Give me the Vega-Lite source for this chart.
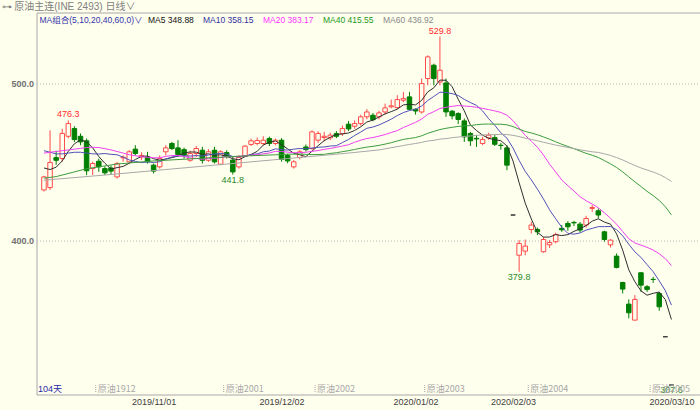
{
  "$schema": "https://vega.github.io/schema/vega-lite/v6.json",
  "width": 663.5,
  "height": 382,
  "autosize": {"type": "none"},
  "padding": {"left": 36.5, "top": 12.5, "right": 0, "bottom": 15.5},
  "background": "#ffffee",
  "title": {
    "text": "⊶ 原油主连(INE 2493)  日线∨",
    "anchor": "start",
    "frame": "group",
    "dx": -35,
    "dy": 10,
    "offset": 1,
    "baseline": "bottom",
    "font": "Liberation Sans, Noto Sans CJK SC",
    "fontSize": 10,
    "fontWeight": "normal",
    "color": "#808080"
  },
  "config": {
    "font": "Liberation Sans",
    "view": {"stroke": "#a8a8a8"},
    "axisY": {
      "domain": false,
      "ticks": false,
      "grid": true,
      "gridColor": "#b8b8b8",
      "gridDash": [1, 2],
      "labelPadding": 3,
      "labelFont": "Liberation Sans",
      "labelFontSize": 9,
      "labelFontWeight": "bold",
      "labelColor": "#707070"
    }
  },
  "datasets": {
    "k": [
      {"i":0,"o":432,"h":441,"l":431,"c":440.3,"MA5":446,"MA10":457,"MA20":455.5,"MA40":439.5,"MA60":438.2},
      {"i":1,"o":433.5,"h":470,"l":432,"c":449.5,"MA5":445,"MA10":456,"MA20":456},
      {"i":2,"o":452.6,"h":457,"l":448,"c":450.9,"MA5":446.5,"MA10":455,"MA20":456.5,"MA40":440.5},
      {"i":3,"o":452,"h":471,"l":450,"c":468,"MA5":450.5,"MA10":455,"MA20":457},
      {"i":4,"o":466.2,"h":476.3,"l":465,"c":474.3,"MA5":456.6,"MA10":455.5,"MA20":457.5},
      {"i":5,"o":471.1,"h":472.6,"l":462.6,"c":464.1,"MA5":461.4,"MA10":456,"MA20":458},
      {"i":6,"o":466.2,"h":468,"l":460.5,"c":462.6,"MA5":464,"MA10":456,"MA20":458.5},
      {"i":7,"o":463.3,"h":464.8,"l":441.4,"c":444.2,"MA5":462.6,"MA10":455.5,"MA20":459,"MA40":445.5},
      {"i":8,"o":445.6,"h":450,"l":441.4,"c":448.8,"MA5":458.8,"MA10":455,"MA20":459.2},
      {"i":9,"o":450.3,"h":452,"l":443.5,"c":446.7,"MA5":453.3,"MA10":454.9,"MA20":459},
      {"i":10,"o":445.6,"h":447,"l":441.5,"c":442.9,"MA5":449,"MA10":455.2,"MA20":458.3,"MA60":441.5},
      {"i":11,"o":446,"h":447.5,"l":442,"c":444,"MA5":445.3,"MA10":454.7,"MA20":457.5},
      {"i":12,"o":440.3,"h":449.9,"l":439.3,"c":448.8,"MA5":446.2,"MA10":454.4,"MA20":456.5,"MA40":448.5},
      {"i":13,"o":452.5,"h":454,"l":450,"c":452.8,"MA5":447,"MA10":452.9,"MA20":455.5},
      {"i":14,"o":449.9,"h":457.4,"l":449,"c":456.3,"MA5":449,"MA10":451.1,"MA20":454.5},
      {"i":15,"o":458,"h":460.5,"l":454,"c":455.2,"MA5":451.4,"MA10":450.2,"MA20":453.8},
      {"i":16,"o":453,"h":456,"l":451,"c":454,"MA5":453.4,"MA10":449.4,"MA20":453.2},
      {"i":17,"o":453,"h":456.3,"l":448.8,"c":449.9,"MA5":453.6,"MA10":449.9,"MA20":452.8},
      {"i":18,"o":447.8,"h":448.8,"l":442.5,"c":444,"MA5":451.9,"MA10":449.5,"MA20":452.5,"MA40":450.5},
      {"i":19,"o":446.7,"h":454,"l":445.6,"c":452,"MA5":451,"MA10":450,"MA20":452.5},
      {"i":20,"o":456.3,"h":460.5,"l":454,"c":458.8,"MA5":451.7,"MA10":451.6,"MA20":453.4,"MA60":445},
      {"i":21,"o":461.6,"h":462.6,"l":457.4,"c":458.4,"MA5":452.6,"MA10":453,"MA20":453.9},
      {"i":22,"o":458.8,"h":463.7,"l":453,"c":454.6,"MA5":453.6,"MA10":453.6,"MA20":454},
      {"i":23,"o":457.7,"h":459,"l":452,"c":454.1,"MA5":455.6,"MA10":453.7,"MA20":453.3},
      {"i":24,"o":450.9,"h":457,"l":449.9,"c":455.2,"MA5":456.2,"MA10":453.6,"MA20":452.4},
      {"i":25,"o":455.2,"h":460,"l":453,"c":458.4,"MA5":456.1,"MA10":453.9,"MA20":452.1,"MA40":452},
      {"i":26,"o":457.3,"h":459.5,"l":448.8,"c":450.9,"MA5":454.6,"MA10":453.6,"MA20":451.5},
      {"i":27,"o":450.9,"h":458,"l":449.9,"c":456.3,"MA5":455,"MA10":454.3,"MA20":452.1},
      {"i":28,"o":457.3,"h":459.5,"l":448.8,"c":449.9,"MA5":454.1,"MA10":454.9,"MA20":452.2,"MA60":447.8},
      {"i":29,"o":448.4,"h":457.3,"l":447.8,"c":456.3,"MA5":454.4,"MA10":455.3,"MA20":452.7},
      {"i":30,"o":455.8,"h":457.3,"l":452,"c":453.5,"MA5":453.4,"MA10":454.8,"MA20":453.2},
      {"i":31,"o":451,"h":453,"l":441.8,"c":443.5,"MA5":451.9,"MA10":453.3,"MA20":453.2},
      {"i":32,"o":446.7,"h":454,"l":445.6,"c":452.7,"MA5":451.2,"MA10":453.1,"MA20":453.4,"MA40":453.5},
      {"i":33,"o":453.5,"h":460.5,"l":453,"c":459.9,"MA5":453.2,"MA10":453.7,"MA20":453.7},
      {"i":34,"o":461,"h":464.8,"l":460,"c":463.3,"MA5":454.6,"MA10":454.5,"MA20":454.1},
      {"i":35,"o":461.6,"h":465.4,"l":460.5,"c":463.5,"MA5":456.6,"MA10":455,"MA20":454.5},
      {"i":36,"o":461.6,"h":466.2,"l":460.5,"c":463.7,"MA5":460.6,"MA10":456.3,"MA20":455},
      {"i":37,"o":464.8,"h":466,"l":460,"c":461.6,"MA5":462.4,"MA10":456.8,"MA20":455.6},
      {"i":38,"o":461.6,"h":464.8,"l":460.5,"c":463.7,"MA5":463.2,"MA10":458.2,"MA20":456.6,"MA40":454.4},
      {"i":39,"o":463.7,"h":465,"l":450,"c":451.4,"MA5":460.8,"MA10":457.7,"MA20":456.5,"MA40":454.5},
      {"i":40,"o":454.1,"h":455,"l":449,"c":450.5,"MA5":458.2,"MA10":457.4,"MA20":456.1,"MA40":454.8,"MA60":452},
      {"i":41,"o":446.7,"h":451,"l":445.6,"c":449.9,"MA5":455.4,"MA10":458,"MA20":455.7,"MA40":454.8},
      {"i":42,"o":452.7,"h":457.5,"l":451.5,"c":456.3,"MA5":454.4,"MA10":458.4,"MA20":455.8,"MA40":454.9},
      {"i":43,"o":459.4,"h":461,"l":456.5,"c":457.7,"MA5":453.2,"MA10":458.2,"MA20":456,"MA40":454.7},
      {"i":44,"o":458.4,"h":470,"l":457.5,"c":469,"MA5":456.7,"MA10":458.7,"MA20":456.6,"MA40":454.5},
      {"i":45,"o":463.7,"h":469.5,"l":462,"c":468,"MA5":460.2,"MA10":459.2,"MA20":457.1,"MA40":454.6},
      {"i":46,"o":465.4,"h":469,"l":463,"c":466.2,"MA5":463.4,"MA10":459.4,"MA20":457.9,"MA40":454.7},
      {"i":47,"o":465.2,"h":468.5,"l":463.7,"c":466.9,"MA5":465.6,"MA10":460,"MA20":458.4,"MA40":455.3},
      {"i":48,"o":467.9,"h":469.5,"l":465,"c":466.2,"MA5":467.3,"MA10":460.2,"MA20":459.2,"MA40":455.7},
      {"i":49,"o":467.9,"h":473,"l":466.5,"c":471.1,"MA5":467.7,"MA10":462.2,"MA20":460,"MA40":456.4},
      {"i":50,"o":473.9,"h":476,"l":469.5,"c":470.9,"MA5":468.3,"MA10":464.2,"MA20":460.8,"MA40":457,"MA60":455.5},
      {"i":51,"o":472.6,"h":476.3,"l":471,"c":474.3,"MA5":469.9,"MA10":466.7,"MA20":462.4,"MA40":457.8},
      {"i":52,"o":474.3,"h":480,"l":473,"c":478.6,"MA5":472.2,"MA10":468.9,"MA20":463.7,"MA40":458.6},
      {"i":53,"o":478.6,"h":483.5,"l":477,"c":481.7,"MA5":475.3,"MA10":471.3,"MA20":464.8,"MA40":459.3},
      {"i":54,"o":479.6,"h":481,"l":475.8,"c":476.8,"MA5":476.5,"MA10":472.1,"MA20":465.4,"MA40":459.8},
      {"i":55,"o":478.6,"h":482.5,"l":477,"c":481.1,"MA5":478.5,"MA10":473.4,"MA20":466.3,"MA40":460.4,"MA60":457.5},
      {"i":56,"o":481.7,"h":487,"l":480,"c":484.3,"MA5":480.5,"MA10":475.2,"MA20":467.3,"MA40":461.2},
      {"i":57,"o":485,"h":489.6,"l":484,"c":485.6,"MA5":481.9,"MA10":477.1,"MA20":468.6,"MA40":462.1},
      {"i":58,"o":484.5,"h":492.4,"l":483.5,"c":489.6,"MA5":483.5,"MA10":479.4,"MA20":469.8,"MA40":463.2},
      {"i":59,"o":489.2,"h":494.5,"l":488,"c":490.2,"MA5":486.2,"MA10":481.3,"MA20":471.8,"MA40":464.2,"MA60":460.3},
      {"i":60,"o":491.3,"h":494.5,"l":482.8,"c":483.4,"MA5":486.6,"MA10":482.6,"MA20":473.4,"MA40":464.8,"MA60":461},
      {"i":61,"o":483.4,"h":484,"l":480,"c":482.3,"MA5":486.2,"MA10":483.4,"MA20":475.1,"MA40":465.4,"MA60":461.6},
      {"i":62,"o":481.7,"h":503,"l":480.7,"c":499.8,"MA5":489.1,"MA10":485.5,"MA20":477.2,"MA40":466.5,"MA60":462.3},
      {"i":63,"o":503,"h":517.8,"l":498.7,"c":516.8,"MA5":494.5,"MA10":489,"MA20":480.2,"MA40":468.1,"MA60":463.2},
      {"i":64,"o":511.5,"h":512.5,"l":498.7,"c":503,"MA5":497.1,"MA10":491.6,"MA20":481.9,"MA40":469.3,"MA60":463.6},
      {"i":65,"o":500.8,"h":529.8,"l":498.7,"c":508.3,"MA5":502,"MA10":494.3,"MA20":483.9,"MA40":470.5,"MA60":464.4},
      {"i":66,"o":500.2,"h":503,"l":478.6,"c":481.7,"MA5":501.9,"MA10":494.1,"MA20":484.7,"MA40":471.3,"MA60":464.7},
      {"i":67,"o":482.2,"h":483,"l":477,"c":479.2,"MA5":497.8,"MA10":493.4,"MA20":485.3,"MA40":471.9,"MA60":465.3},
      {"i":68,"o":480.7,"h":481.5,"l":474,"c":476.9,"MA5":489.8,"MA10":492.2,"MA20":485.8,"MA40":472.5,"MA60":465.7},
      {"i":69,"o":476,"h":477.5,"l":462.6,"c":465.8,"MA5":482.4,"MA10":489.7,"MA20":485.5,"MA40":472.8,"MA60":466.1},
      {"i":70,"o":468,"h":469,"l":460,"c":463.3,"MA5":473.4,"MA10":487.7,"MA20":485.2,"MA40":473,"MA60":466.4},
      {"i":71,"o":464.9,"h":466.9,"l":459.4,"c":464.5,"MA5":469.9,"MA10":485.9,"MA20":484.7,"MA40":473.6,"MA60":466.8},
      {"i":72,"o":461.6,"h":465.8,"l":460.5,"c":464.1,"MA5":466.9,"MA10":482.4,"MA20":484,"MA40":473.9,"MA60":467},
      {"i":73,"o":465.2,"h":468.4,"l":464,"c":466.9,"MA5":464.9,"MA10":477.4,"MA20":483.2,"MA40":474,"MA60":467.2},
      {"i":74,"o":465.4,"h":467,"l":460,"c":461.1,"MA5":464,"MA10":473.2,"MA20":482.4,"MA40":473.9,"MA60":467.3},
      {"i":75,"o":460.5,"h":462,"l":457.7,"c":460.3,"MA5":463.4,"MA10":468.4,"MA20":481.4,"MA40":473.9,"MA60":467.4},
      {"i":76,"o":458.8,"h":460.5,"l":444.6,"c":447.8,"MA5":460,"MA10":465,"MA20":479.6,"MA40":473.5,"MA60":467.3},
      {"i":77,"o":416,"h":416,"l":416,"c":416,"MA5":450.4,"MA10":458.7,"MA20":476.1,"MA40":472.4,"MA60":466.8},
      {"i":78,"o":390.4,"h":400,"l":379.8,"c":397.9,"MA5":436.6,"MA10":450.8,"MA20":471.5,"MA40":470.7,"MA60":466},
      {"i":79,"o":393,"h":400.4,"l":390.4,"c":396.2,"MA5":423.6,"MA10":443.8,"MA20":466.8,"MA40":469.3,"MA60":465},
      {"i":80,"o":406.8,"h":411.7,"l":404.2,"c":409.6,"MA5":413.5,"MA10":438.4,"MA20":463.1,"MA40":468.3,"MA60":464.2},
      {"i":81,"o":406.8,"h":408,"l":403.2,"c":405.3,"MA5":405,"MA10":432.5,"MA20":459.2,"MA40":467.2,"MA60":463.3},
      {"i":82,"o":392.6,"h":402.1,"l":392,"c":400.4,"MA5":401.9,"MA10":426.2,"MA20":454.3,"MA40":465.8,"MA60":462.4},
      {"i":83,"o":397,"h":400,"l":395,"c":398.5,"MA5":402,"MA10":419.3,"MA20":448.4,"MA40":464.3,"MA60":461.5},
      {"i":84,"o":399,"h":404.8,"l":398,"c":403.6,"MA5":403.5,"MA10":413.6,"MA20":443.4,"MA40":462.7,"MA60":460.6},
      {"i":85,"o":407.5,"h":409.6,"l":405.3,"c":406.6,"MA5":402.9,"MA10":408.2,"MA20":438.3,"MA40":461.1,"MA60":459.8},
      {"i":86,"o":410.6,"h":412.1,"l":406,"c":408.5,"MA5":403.5,"MA10":404.3,"MA20":434.7,"MA40":459.7,"MA60":459.1},
      {"i":87,"o":411.3,"h":412.3,"l":409,"c":411,"MA5":405.6,"MA10":403.8,"MA20":431.3,"MA40":458.3,"MA60":458.3},
      {"i":88,"o":410.2,"h":411.5,"l":405,"c":406.4,"MA5":407.2,"MA10":404.6,"MA20":427.7,"MA40":456.8,"MA60":457.6},
      {"i":89,"o":409.6,"h":415.5,"l":408,"c":413.8,"MA5":409.3,"MA10":406.4,"MA20":425.1,"MA40":455.3,"MA60":456.9},
      {"i":90,"o":420.2,"h":422.3,"l":418,"c":420.8,"MA5":412.1,"MA10":407.5,"MA20":423,"MA40":454.1,"MA60":456.3},
      {"i":91,"o":418.7,"h":420.2,"l":413.8,"c":416,"MA5":413.6,"MA10":408.6,"MA20":420.6,"MA40":452.7,"MA60":455.9},
      {"i":92,"o":405.3,"h":406,"l":399,"c":400.4,"MA5":411.5,"MA10":408.6,"MA20":417.4,"MA40":450.7,"MA60":455},
      {"i":93,"o":397,"h":400.6,"l":395.3,"c":400,"MA5":410.2,"MA10":408.7,"MA20":414,"MA40":448.6,"MA60":454},
      {"i":94,"o":389.8,"h":391.5,"l":382,"c":382.6,"MA5":404,"MA10":406.6,"MA20":410.1,"MA40":446.3,"MA60":452.6},
      {"i":95,"o":373,"h":373.5,"l":366,"c":368.8,"MA5":393.6,"MA10":402.8,"MA20":405.5,"MA40":443.5,"MA60":451.1},
      {"i":96,"o":359.2,"h":362.2,"l":350.1,"c":353.7,"MA5":381.1,"MA10":397.4,"MA20":400.9,"MA40":440.3,"MA60":449.3},
      {"i":97,"o":349,"h":365,"l":348.9,"c":362.2,"MA5":373.5,"MA10":392.5,"MA20":398.2,"MA40":437.2,"MA60":447.6},
      {"i":98,"o":379.2,"h":379.5,"l":367,"c":371.3,"MA5":367.7,"MA10":389,"MA20":396.8,"MA40":434.2,"MA60":446},
      {"i":99,"o":370.3,"h":371.3,"l":367,"c":368.6,"MA5":364.9,"MA10":384.4,"MA20":395.4,"MA40":431.1,"MA60":444.7},
      {"i":100,"o":375,"h":376.6,"l":372.8,"c":374.9,"MA5":366.1,"MA10":379.9,"MA20":393.7,"MA40":428.4,"MA60":443.4},
      {"i":101,"o":366,"h":367.1,"l":355,"c":357.5,"MA5":366.9,"MA10":374,"MA20":391.3,"MA40":425.3,"MA60":441.9},
      {"i":102,"o":338.4,"h":338.4,"l":338.4,"c":338.4,"MA5":362.1,"MA10":367.8,"MA20":388.2,"MA40":421.3,"MA60":439.9},
      {"i":103,"o":307.6,"h":307.6,"l":307.6,"c":307.6,"MA5":349.4,"MA10":358.6,"MA20":383.7,"MA40":416.1,"MA60":437.4}
    ],
    "ext": [
      {"i":4,"p":476.3,"k":"hi"},
      {"i":65,"p":529.8,"k":"hi"},
      {"i":31,"p":441.8,"k":"lo"},
      {"i":78,"p":379.8,"k":"lo"},
      {"i":103,"p":307.6,"k":"lo"}
    ],
    "ct": [
      {"i":8.5,"t":"原油1912"},
      {"i":29.5,"t":"原油2001"},
      {"i":44.5,"t":"原油2002"},
      {"i":62.5,"t":"原油2003"},
      {"i":79.5,"t":"原油2004"},
      {"i":99.5,"t":"原油2005"}
    ]
  },
  "encoding": {
    "x": {
      "field": "i",
      "type": "quantitative",
      "scale": {"domain": [-0.404, 106.87], "nice": false, "zero": false},
      "axis": {
        "values": [18, 39, 61, 77, 103],
        "labelExpr": "datum.value == 18 ? '2019/11/01' : datum.value == 39 ? '2019/12/02' : datum.value == 61 ? '2020/01/02' : datum.value == 77 ? '2020/02/03' : '2020/03/10'",
        "grid": false,
        "ticks": false,
        "domain": false,
        "labelPadding": 3,
        "labelFont": "Liberation Sans",
        "labelFontSize": 9,
        "labelColor": "#404040",
        "labelFlush": false,
        "labelOverlap": false,
        "title": "104天",
        "titleFont": "Liberation Sans, Noto Sans CJK SC",
        "titleFontSize": 9,
        "titleFontWeight": "normal",
        "titleColor": "#2a2aa8",
        "titleX": 1,
        "titleY": -6,
        "titleAlign": "left",
        "titleBaseline": "middle"
      }
    }
  },
  "layer": [
    {
      "data": {"name": "k"},
      "mark": {"type": "rule", "strokeWidth": 1},
      "encoding": {
        "y": {"field": "l", "type": "quantitative", "title": null, "scale": {"domain": [301.6, 545.1], "nice": false, "zero": false}, "axis": {"values": [400, 500], "format": ".1f"}},
        "y2": {"field": "h"},
        "color": {
          "condition": [
            {"test": "datum.h == datum.l", "value": "#333333"},
            {"test": "datum.c >= datum.o", "value": "#ff4a4a"}
          ],
          "value": "#007f00"
        }
      }
    },
    {
      "data": {"name": "k"},
      "mark": {"type": "bar", "width": 4.5, "strokeWidth": 1},
      "encoding": {
        "y": {"field": "o", "type": "quantitative", "title": null, "scale": {"domain": [301.6, 545.1], "nice": false, "zero": false}},
        "y2": {"field": "c"},
        "fill": {
          "condition": [
            {"test": "datum.h == datum.l", "value": "#333333"},
            {"test": "datum.c >= datum.o", "value": "#ffffee"}
          ],
          "value": "#007f00"
        },
        "stroke": {
          "condition": [
            {"test": "datum.h == datum.l", "value": "#333333"},
            {"test": "datum.c >= datum.o", "value": "#ff4a4a"}
          ],
          "value": "#007f00"
        }
      }
    },
    {
      "data": {"name": "k"},
      "transform": [
        {"fold": ["MA5", "MA10", "MA20", "MA40", "MA60"], "as": ["s", "v"]},
        {"filter": "isValid(datum.v)"}
      ],
      "mark": {"type": "line", "strokeWidth": 1},
      "encoding": {
        "y": {"field": "v", "type": "quantitative", "title": null, "scale": {"domain": [301.6, 545.1], "nice": false, "zero": false}},
        "color": {
          "field": "s",
          "type": "nominal",
          "scale": {
            "domain": ["MA5", "MA10", "MA20", "MA40", "MA60"],
            "range": ["#2e2e2e", "#5050b8", "#f040f0", "#3c9c3c", "#a8a8a8"]
          },
          "legend": {
            "orient": "top-left",
            "offset": 3,
            "padding": 0,
            "direction": "horizontal",
            "title": "MA组合(5,10,20,40,60,0)∨",
            "titleOrient": "left",
            "titlePadding": -3,
            "titleFont": "Liberation Sans, Noto Sans CJK SC",
            "titleFontSize": 8.5,
            "titleFontWeight": "normal",
            "titleColor": "#3333aa",
            "labelFont": "Liberation Sans",
            "labelFontSize": 8.5,
            "labelOffset": 0,
            "columnPadding": -10,
            "symbolSize": 0,
            "symbolStrokeWidth": 0,
            "symbolOpacity": 0,
            "labelExpr": "datum.label == 'MA5' ? 'MA5 348.88' : datum.label == 'MA10' ? 'MA10 358.15' : datum.label == 'MA20' ? 'MA20 383.17' : datum.label == 'MA40' ? 'MA40 415.55' : 'MA60 436.92'",
            "labelColor": {"expr": "datum.value == 'MA5' ? '#111111' : datum.value == 'MA10' ? '#3030a0' : datum.value == 'MA20' ? '#ff33ff' : datum.value == 'MA40' ? '#229922' : '#888888'"}
          }
        }
      }
    },
    {
      "data": {"name": "ext"},
      "transform": [{"filter": "datum.k == 'hi'"}],
      "mark": {"type": "text", "dy": -6, "baseline": "middle", "font": "Liberation Sans", "fontSize": 9, "color": "#ff2a2a"},
      "encoding": {
        "y": {"field": "p", "type": "quantitative", "title": null, "scale": {"domain": [301.6, 545.1], "nice": false, "zero": false}},
        "text": {"field": "p", "type": "quantitative", "format": ".1f"}
      }
    },
    {
      "data": {"name": "ext"},
      "transform": [{"filter": "datum.k == 'lo'"}],
      "mark": {"type": "text", "dy": 5, "baseline": "middle", "font": "Liberation Sans", "fontSize": 9, "color": "#2a8a2a"},
      "encoding": {
        "y": {"field": "p", "type": "quantitative", "title": null, "scale": {"domain": [301.6, 545.1], "nice": false, "zero": false}},
        "text": {"field": "p", "type": "quantitative", "format": ".1f"}
      }
    },
    {
      "data": {"name": "ct"},
      "mark": {"type": "rule", "strokeDash": [1, 1], "color": "#a0a0a0"},
      "encoding": {
        "y": {"datum": 303.2, "type": "quantitative", "scale": {"domain": [301.6, 545.1], "nice": false, "zero": false}},
        "y2": {"datum": 307.6}
      }
    },
    {
      "data": {"name": "ct"},
      "mark": {"type": "text", "align": "left", "baseline": "middle", "dx": 2, "font": "Noto Sans CJK SC", "fontSize": 9, "color": "#a8a8a8"},
      "encoding": {
        "y": {"datum": 305.2, "type": "quantitative", "scale": {"domain": [301.6, 545.1], "nice": false, "zero": false}},
        "text": {"field": "t"}
      }
    }
  ]
}
